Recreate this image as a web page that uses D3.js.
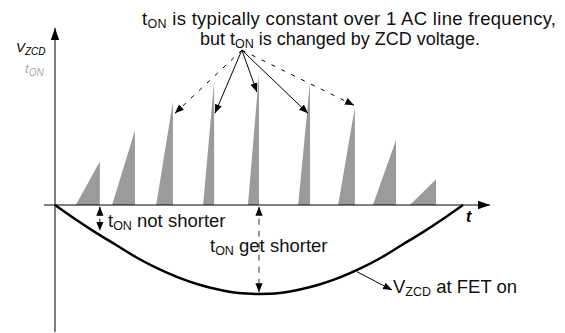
<!DOCTYPE html>
<html>
<head>
<meta charset="utf-8">
<script src="https://cdn.jsdelivr.net/npm/d3@7"></script>
<style>
  body { margin: 0; background: #fff; }
  svg text { font-family: "Liberation Sans", Arial, sans-serif; }
</style>
</head>
<body>
<svg id="svg" width="565" height="333"></svg>
<script>
// time axis 0..100 = one half line cycle, value axis in arbitrary units
var tonStart = [5.1, 14.0, 24.8, 36.3, 47.3, 59.6, 69.4, 77.9, 87.0];
var tonEnd   = [11.0, 19.6, 28.9, 39.0, 50.0, 62.5, 73.5, 83.6, 93.4];
var tonPeak  = [49, 84, 116, 139, 148, 138, 110, 73, 29];

var curveT = [0, 5, 10, 15, 20, 25, 30, 35, 40, 45, 50, 55, 60, 65, 70, 75, 80, 85, 90, 95, 100];
var curveV = [0, -16, -31, -45, -59, -71, -81, -89, -95, -99, -100, -99, -95, -89, -81, -71, -59, -45, -31, -16, 0];

// arrows from the note to the pulses
var noteFrom = [45.8, 174];
var noteTargets = [
  { t: 29.4, v: 103, dashed: true },
  { t: 39.2, v: 103, dashed: false },
  { t: 49.5, v: 127, dashed: false },
  { t: 62.0, v: 103, dashed: false },
  { t: 73.3, v: 112, dashed: true }
];

var svg = d3.select("#svg");

var x = d3.scaleLinear().domain([0, 100]).range([55, 463]);
var y = d3.scaleLinear().domain([-100, 150]).range([294, 71.5]);

var defs = svg.append("defs");
defs.append("marker")
    .attr("id", "head")
    .attr("viewBox", "0 0 10 10")
    .attr("refX", 10).attr("refY", 5)
    .attr("markerWidth", 9).attr("markerHeight", 9)
    .attr("markerUnits", "userSpaceOnUse")
    .attr("orient", "auto-start-reverse")
  .append("path")
    .attr("d", "M0,1 L10,5 L0,9 z")
    .attr("fill", "#000");
defs.append("marker")
    .attr("id", "bighead")
    .attr("viewBox", "0 0 10 10")
    .attr("refX", 10).attr("refY", 5)
    .attr("markerWidth", 12).attr("markerHeight", 12)
    .attr("markerUnits", "userSpaceOnUse")
    .attr("orient", "auto")
  .append("path")
    .attr("d", "M0,1.5 L10,5 L0,8.5 z")
    .attr("fill", "#000");

// pulses (ton triangles)
svg.append("g").selectAll("path")
  .data(tonPeak)
  .enter().append("path")
    .attr("d", function(d, i) {
      return "M" + x(tonStart[i]) + "," + y(0) +
             "L" + x(tonEnd[i]) + "," + y(d) +
             "L" + x(tonEnd[i]) + "," + y(0) + "Z";
    })
    .attr("fill", "#9b9b9b");

// axes
svg.append("line")
    .attr("x1", x(0)).attr("x2", x(0))
    .attr("y1", 332).attr("y2", 28)
    .attr("stroke", "#000").attr("stroke-width", 1)
    .attr("marker-end", "url(#bighead)");
svg.append("line")
    .attr("x1", 44).attr("x2", 490)
    .attr("y1", y(0)).attr("y2", y(0))
    .attr("stroke", "#000").attr("stroke-width", 1)
    .attr("marker-end", "url(#bighead)");

// VZCD curve
var line = d3.line()
    .x(function(d, i) { return x(curveT[i]); })
    .y(function(d) { return y(d); })
    .curve(d3.curveCatmullRom);
svg.append("path")
    .datum(curveV)
    .attr("d", line)
    .attr("fill", "none")
    .attr("stroke", "#000")
    .attr("stroke-width", 2.5);

// note arrows
noteTargets.forEach(function(d) {
  svg.append("line")
      .attr("x1", x(noteFrom[0])).attr("y1", y(noteFrom[1]))
      .attr("x2", x(d.t)).attr("y2", y(d.v))
      .attr("stroke", "#000").attr("stroke-width", 1)
      .attr("stroke-dasharray", d.dashed ? "4,7" : null)
      .attr("marker-end", "url(#head)");
});

// double arrows under the axis
svg.append("line")
    .attr("x1", x(11)).attr("x2", x(11))
    .attr("y1", y(-2)).attr("y2", y(-29))
    .attr("stroke", "#000").attr("stroke-width", 1)
    .attr("stroke-dasharray", "3,3")
    .attr("marker-start", "url(#head)")
    .attr("marker-end", "url(#head)");
svg.append("line")
    .attr("x1", x(50)).attr("x2", x(50))
    .attr("y1", y(-2)).attr("y2", y(-98))
    .attr("stroke", "#555").attr("stroke-width", 1.2)
    .attr("stroke-dasharray", "6,6")
    .attr("marker-start", "url(#head)")
    .attr("marker-end", "url(#head)");

// pointer to curve label
svg.append("line")
    .attr("x1", x(74)).attr("y1", y(-75))
    .attr("x2", x(82.6)).attr("y2", y(-95.5))
    .attr("stroke", "#000").attr("stroke-width", 1)
    .attr("marker-end", "url(#head)");

// texts
function subText(tx, ty, parts, opts) {
  opts = opts || {};
  var t = svg.append("text")
      .attr("x", tx).attr("y", ty)
      .attr("font-size", opts.size || 18.5)
      .attr("fill", opts.fill || "#111")
      .attr("font-style", opts.italic ? "italic" : null)
      .attr("font-weight", opts.bold ? "bold" : null);
  if (opts.len) t.attr("textLength", opts.len).attr("lengthAdjust", "spacing");
  parts.forEach(function(p) {
    var s = t.append("tspan").text(p[0]);
    if (p[1] === "sub") s.attr("font-size", opts.subSize || 12.5).attr("dy", 3);
    if (p[1] === "back") s.attr("dy", -3);
  });
  return t;
}

subText(142, 25, [["t"], ["ON", "sub"], [" is typically constant over 1 AC line frequency,", "back"]], { len: 414 });
subText(200, 45, [["but t"], ["ON", "sub"], [" is changed by ZCD voltage.", "back"]], { size: 18 });
subText(16, 52, [["V"], ["ZCD", "sub"]], { size: 13.5, subSize: 10, italic: true, fill: "#000" });
subText(25, 73, [["t"], ["ON", "sub"]], { size: 13.5, subSize: 10, italic: true, fill: "#aaa" });
subText(466, 222, [["t"]], { size: 16, italic: true, bold: true, fill: "#000" });
subText(108, 227, [["t"], ["ON", "sub"], [" not shorter", "back"]]);
subText(210, 252, [["t"], ["ON", "sub"], [" get shorter", "back"]]);
subText(393, 293, [["V"], ["ZCD", "sub"], [" at FET on", "back"]]);
</script>
</body>
</html>
